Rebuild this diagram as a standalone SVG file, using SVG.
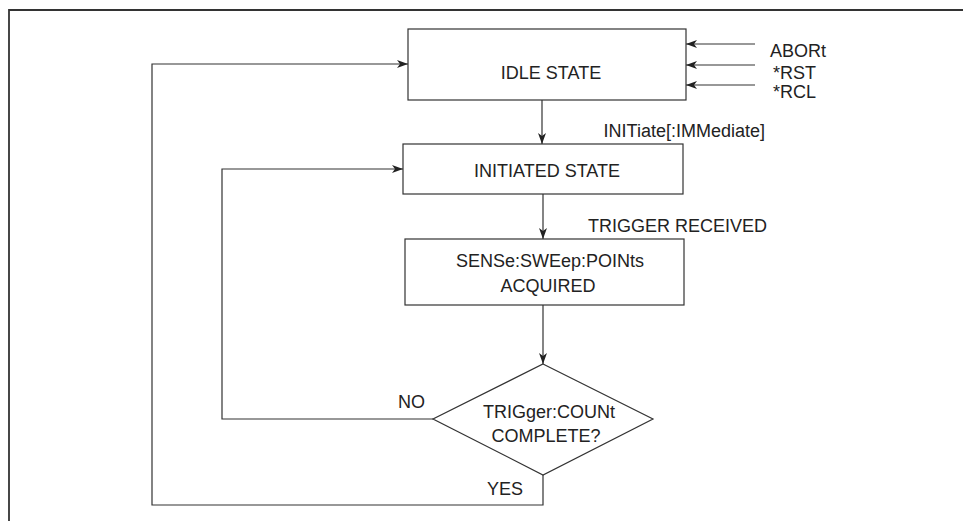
<svg xmlns="http://www.w3.org/2000/svg" width="963" height="521" viewBox="0 0 963 521">
<defs>
<marker id="ah" markerWidth="12" markerHeight="8" refX="11" refY="4" orient="auto" markerUnits="userSpaceOnUse">
<path d="M0,0 L11,4 L0,8 L3,4 Z" fill="#222"/>
</marker>
</defs>
<style>
.box{fill:#fff;stroke:#333;stroke-width:1.2}
.ln{fill:none;stroke:#333;stroke-width:1.2}
.t{font-family:"Liberation Sans",Arial,sans-serif;font-size:18px;fill:#222}
.c{text-anchor:middle}
</style>
<rect width="963" height="521" fill="#fff"/>
<g id="frame">
<path d="M9,521 L9,10 L963,10" fill="none" stroke="#333" stroke-width="1.8"/>
</g>
<g id="connectors">
<line class="ln" x1="755" y1="44" x2="686" y2="44" marker-end="url(#ah)"/>
<line class="ln" x1="755" y1="65" x2="686" y2="65" marker-end="url(#ah)"/>
<line class="ln" x1="755" y1="85" x2="686" y2="85" marker-end="url(#ah)"/>
<line class="ln" x1="542" y1="100" x2="542" y2="144" marker-end="url(#ah)"/>
<line class="ln" x1="543" y1="194" x2="543" y2="239" marker-end="url(#ah)"/>
<line class="ln" x1="543" y1="305" x2="543" y2="364" marker-end="url(#ah)"/>
<polyline class="ln" points="433,419 222,419 222,169 403,169" marker-end="url(#ah)"/>
<polyline class="ln" points="543,475 543,505 152,505 152,64 408,64" marker-end="url(#ah)"/>
</g>
<g id="idle">
<rect class="box" x="408" y="29" width="278" height="71"/>
<text class="t c" x="551" y="79">IDLE STATE</text>
</g>
<g id="initiated">
<rect class="box" x="403" y="144" width="280" height="50"/>
<text class="t c" x="547" y="177">INITIATED STATE</text>
</g>
<g id="sense">
<rect class="box" x="405" y="239" width="279" height="66"/>
<text class="t c" x="550" y="267">SENSe:SWEep:POINts</text>
<text class="t c" x="548" y="292">ACQUIRED</text>
</g>
<g id="decision">
<polygon class="box" points="543,364 653,419 543,475 433,419"/>
<text class="t c" x="549" y="418">TRIGger:COUNt</text>
<text class="t c" x="546" y="442">COMPLETE?</text>
</g>
<g id="labels">
<text class="t" x="770" y="57">ABORt</text>
<text class="t" x="773" y="79">*RST</text>
<text class="t" x="773" y="98">*RCL</text>
<text class="t" x="765" y="137" text-anchor="end">INITiate[:IMMediate]</text>
<text class="t" x="767" y="232" text-anchor="end">TRIGGER RECEIVED</text>
<text class="t" x="398" y="408">NO</text>
<text class="t" x="487" y="495">YES</text>
</g>
</svg>
